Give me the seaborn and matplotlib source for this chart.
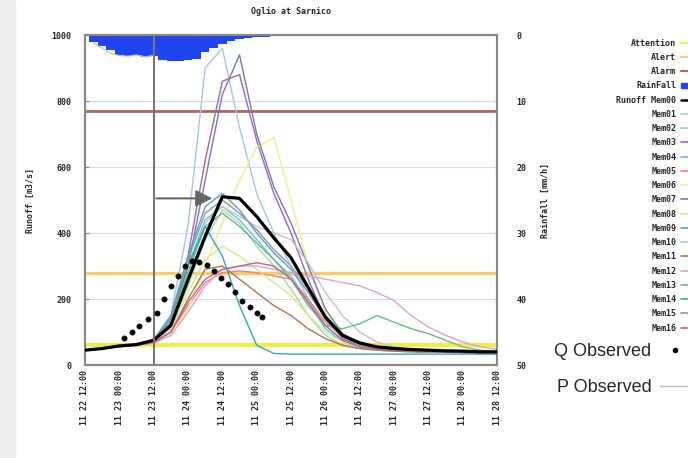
import numpy as np
import pandas as pd
import matplotlib
matplotlib.use("Agg")
import matplotlib.pyplot as plt
from matplotlib.lines import Line2D
from matplotlib.patches import Patch
import seaborn as sns

# forecast time grid, hours after 11-22 12:00
HOURS = [0, 6, 12, 18, 24, 30, 36, 42, 48, 54, 60, 66, 72,
         78, 84, 90, 96, 102, 108, 114, 120, 126, 132, 138, 144]

TICK_HOURS = [0, 12, 24, 36, 48, 60, 72, 84, 96, 108, 120, 132, 144]
TICK_LABELS = ["11 22 12:00", "11 23 00:00", "11 23 12:00", "11 24 00:00",
               "11 24 12:00", "11 25 00:00", "11 25 12:00", "11 26 00:00",
               "11 26 12:00", "11 27 00:00", "11 27 12:00", "11 28 00:00",
               "11 28 12:00"]

mem00 = [45, 50, 58, 62, 75, 120, 258, 390, 510, 505, 450, 385, 325, 235, 145, 90, 67, 55, 50, 47, 45, 43, 42, 40, 40]
mem01 = [45, 50, 57, 62, 72, 115, 240, 380, 470, 430, 360, 300, 230, 150, 90, 60, 50, 45, 42, 40, 40, 38, 38, 37, 37]
mem02 = [45, 50, 57, 62, 75, 150, 420, 900, 960, 720, 520, 400, 300, 200, 120, 75, 55, 48, 44, 42, 40, 40, 38, 38, 37]
mem03 = [45, 50, 57, 62, 72, 130, 330, 620, 860, 880, 680, 520, 400, 260, 140, 80, 58, 50, 45, 42, 40, 40, 38, 38, 37]
mem04 = [45, 50, 58, 63, 78, 140, 300, 440, 480, 440, 380, 320, 270, 190, 110, 70, 55, 48, 44, 42, 40, 40, 38, 38, 37]
mem05 = [45, 50, 56, 60, 68, 100, 180, 250, 280, 285, 280, 270, 260, 200, 130, 85, 60, 50, 45, 42, 40, 40, 38, 38, 37]
mem06 = [45, 50, 56, 60, 66, 90, 170, 300, 430, 560, 660, 690, 500, 300, 160, 90, 60, 50, 45, 42, 40, 40, 38, 38, 37]
mem07 = [45, 50, 57, 62, 72, 130, 300, 560, 820, 940, 700, 540, 430, 300, 170, 95, 62, 50, 45, 42, 40, 40, 38, 38, 37]
mem08 = [45, 50, 56, 60, 68, 110, 220, 320, 360, 330, 290, 250, 210, 150, 100, 70, 55, 48, 44, 42, 40, 40, 38, 38, 37]
mem09 = [45, 50, 57, 62, 76, 150, 330, 480, 520, 470, 400, 340, 290, 220, 140, 85, 60, 50, 45, 42, 40, 40, 38, 38, 37]
mem10 = [45, 50, 57, 62, 74, 130, 280, 430, 480, 450, 420, 400, 380, 310, 220, 150, 100, 70, 55, 48, 44, 42, 40, 38, 37]
mem11 = [45, 50, 56, 60, 68, 100, 200, 290, 300, 260, 220, 180, 150, 110, 80, 60, 50, 45, 42, 40, 40, 38, 38, 37, 37]
mem12 = [45, 50, 56, 60, 66, 90, 160, 240, 290, 300, 300, 290, 280, 270, 260, 250, 240, 220, 195, 150, 115, 90, 70, 55, 48]
mem13 = [45, 50, 57, 62, 74, 130, 280, 420, 460, 420, 370, 320, 260, 180, 120, 110, 125, 150, 130, 110, 95, 75, 55, 45, 40]
mem14 = [45, 50, 57, 62, 75, 140, 300, 420, 330, 180, 60, 35, 33, 33, 33, 33, 33, 33, 33, 33, 33, 33, 33, 33, 33]
mem15 = [45, 50, 57, 62, 75, 140, 320, 460, 500, 460, 410, 350, 300, 230, 150, 90, 60, 50, 45, 42, 40, 40, 38, 38, 37]
mem16 = [45, 50, 56, 60, 68, 100, 190, 260, 290, 300, 310, 300, 260, 190, 120, 75, 55, 48, 44, 42, 40, 40, 38, 38, 37]

MEMBERS = [mem01, mem02, mem03, mem04, mem05, mem06, mem07, mem08,
           mem09, mem10, mem11, mem12, mem13, mem14, mem15, mem16]
MEMBER_COLORS = ["#a8d8a8", "#a0c8e0", "#9966bb", "#55cccc", "#f08070", "#f0f080",
                 "#7777aa", "#d8e880", "#6699cc", "#c0c0e0", "#aa7755", "#e0a0d0",
                 "#66bb88", "#33aaaa", "#8899aa", "#bb6699"]

# observed runoff
OBS_HOURS = [13.5, 16.5, 19, 22, 25, 27.5, 30, 32.5, 35, 37.5, 40, 42.5,
             45, 47.5, 50, 52.5, 55, 57.5, 60, 62]
OBS_Q = [82, 100, 118, 138, 158, 200, 240, 270, 300, 315, 312, 303,
         285, 265, 245, 220, 195, 175, 158, 145]

# rainfall (mm/h), 3-hourly
RAIN_HOURS = [3, 6, 9, 12, 15, 18, 21, 24, 27, 30, 33, 36, 39, 42, 45, 48, 51,
              54, 57, 60, 63, 66, 69, 72, 75, 78, 81, 84, 87, 90, 93, 96]
RAIN = [1.0, 1.6, 2.2, 3.0, 3.2, 3.1, 3.4, 3.2, 3.8, 3.9, 3.9, 3.8, 3.7, 2.6,
        1.9, 1.3, 0.9, 0.6, 0.4, 0.3, 0.25, 0.2, 0.2, 0.2, 0.15, 0.15, 0.1,
        0.1, 0.1, 0.1, 0.05, 0.05]
P_OBS_HOURS = [3, 6, 9, 12, 15, 18, 21, 24]
P_OBS = [1.2, 2.0, 2.8, 3.1, 3.2, 3.0, 3.3, 3.1]

ATTENTION = 60
ALERT = 280
ALARM = 770
NOW_HOUR = 24

sns.set_style("white")
plt.rcParams["font.family"] = ["DejaVu Sans Mono", "DejaVu Sans"]
mono = {"family": "DejaVu Sans Mono", "weight": "bold", "size": 6}

fig = plt.figure(figsize=(6.88, 4.58), dpi=100)
fig.patches.append(plt.Rectangle((0, 0), 0.022, 1, transform=fig.transFigure,
                                 color="#eeeeee", zorder=-1))
ax = fig.add_axes([0.1235, 0.203, 0.599, 0.7205])
ax2 = ax.twinx()

# rainfall hanging from the top
ax2.bar(RAIN_HOURS, RAIN, width=3, color="#1f44f0", linewidth=0, zorder=1)
sns.lineplot(x=P_OBS_HOURS, y=P_OBS, ax=ax2, color="#b8c0d8", lw=0.8)
ax2.set_ylim(50, 0)

# thresholds
for val in [200, 400, 600, 800]:
    ax.axhline(val, color="#dddddd", lw=0.8, zorder=0)
ax.axhline(ATTENTION, color="#eeee44", lw=3, zorder=1)
ax.axhline(ALERT, color="#f3cf70", lw=2.5, zorder=1)
ax.axhline(ALARM, color="#a86a5c", lw=2, zorder=1)

for vals, col in zip(MEMBERS, MEMBER_COLORS):
    sns.lineplot(x=HOURS, y=vals, ax=ax, color=col, lw=1.0, zorder=2)
sns.lineplot(x=HOURS, y=mem00, ax=ax, color="black", lw=2.3, zorder=3)
sns.scatterplot(x=OBS_HOURS, y=OBS_Q, ax=ax, color="black", s=15,
                edgecolor="black", zorder=4)

ax.axvline(NOW_HOUR, color="#777777", lw=1.5, zorder=3)
ax.annotate("", xy=(45.5, 505), xytext=(NOW_HOUR, 505),
            arrowprops=dict(arrowstyle="-|>,head_length=1.0,head_width=0.5",
                            color="#666666", lw=1.5), zorder=5)

ax.set_xlim(0, 144)
ax.set_ylim(0, 1000)
ax.set_xticks(TICK_HOURS)
ax.set_xticklabels(TICK_LABELS, rotation=90, fontdict=mono)
ax.set_xticks(list(range(0, 145, 3)), minor=True)
ax.set_yticks([0, 200, 400, 600, 800, 1000])
ax.set_yticklabels(["0", "200", "400", "600", "800", "1000"], fontdict=mono)
ax2.set_yticks([0, 10, 20, 30, 40, 50])
ax2.set_yticklabels(["0", "10", "20", "30", "40", "50"], fontdict=mono)
ax.tick_params(axis="both", which="both", direction="in", length=3, color="#888888")
ax.tick_params(axis="y", pad=10)
ax.tick_params(axis="x", which="minor", length=2)
ax2.tick_params(axis="y", direction="in", length=3, color="#888888", pad=14)
ax.set_ylabel("Runoff [m3/s]", fontdict=mono, labelpad=12)
ax2.set_ylabel("Rainfall [mm/h]", fontdict=mono, labelpad=10)
ax.set_title("Oglio at Sarnico", fontdict=mono, pad=15)
for a in (ax, ax2):
    for s in a.spines.values():
        s.set_color("#888888")
        s.set_linewidth(1.5)
ax.set_zorder(ax2.get_zorder() + 1)
ax.patch.set_visible(False)

handles = [Line2D([], [], color="#eeee44", lw=1.5),
           Line2D([], [], color="#f3cf70", lw=1.5),
           Line2D([], [], color="#a86a5c", lw=1.5),
           Patch(color="#1f44f0"),
           Line2D([], [], color="black", lw=1.8)]
labels = ["Attention", "Alert", "Alarm", "RainFall", "Runoff Mem00"]
for i, col in enumerate(MEMBER_COLORS):
    handles.append(Line2D([], [], color=col, lw=1.2))
    labels.append(f"Mem{i + 1:02d}")
fig.legend(handles, labels, loc="upper right", bbox_to_anchor=(1.035, 0.925),
           frameon=False, markerfirst=False, prop=mono, handlelength=3.2,
           handleheight=0.6, labelspacing=0.63, handletextpad=0.6, borderpad=0)

obs_handles = [Line2D([], [], color="black", marker="o", ls="none", ms=3),
               Line2D([], [], color="#bbbbbb", lw=1)]
fig.legend(obs_handles, ["Q Observed", "P Observed"], loc="upper right",
           bbox_to_anchor=(1.015, 0.27), frameon=False, markerfirst=False,
           prop={"family": "Liberation Sans", "size": 13}, handlelength=1.6,
           labelspacing=1.05, handletextpad=0.5, borderpad=0)

fig.savefig("out.png", dpi=100)
